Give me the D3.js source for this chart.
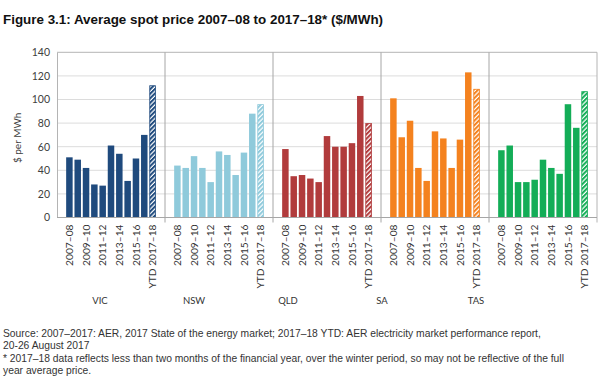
<!DOCTYPE html>
<html>
<head>
<meta charset="utf-8">
<script src="https://cdn.jsdelivr.net/npm/d3@7"></script>
<style>
  body { margin: 0; background: #fff; }
  svg { display: block; }
</style>
</head>
<body>
<div id="chart"></div>
<script>
// data ($/MWh)
const regions = ['VIC', 'NSW', 'QLD', 'SA', 'TAS'];
const years = ['2007–08', '2008–09', '2009–10', '2010–11', '2011–12', '2012–13',
  '2013–14', '2014–15', '2015–16', '2016–17', 'YTD 2017–18'];
const yearTicks = ['2007–08', '2009–10', '2011–12', '2013–14', '2015–16', 'YTD 2017–18'];
const yTicks = [0, 20, 40, 60, 80, 100, 120, 140];

const vic = [51, 49, 42, 28, 27, 61, 54, 31, 50, 70, 112];
const nsw = [44, 42, 52, 42, 30, 56, 53, 36, 55, 88, 96];
const qld = [58, 35, 36, 33, 30, 69, 60, 60, 63, 103, 80];
const sa = [101, 68, 82, 42, 31, 73, 67, 42, 66, 123, 109];
const tas = [57, 61, 30, 30, 32, 49, 42, 37, 96, 76, 107];

const seriesByRegion = { VIC: vic, NSW: nsw, QLD: qld, SA: sa, TAS: tas };
const colors = { VIC: '#1f4a7d', NSW: '#8fcadb', QLD: '#b13b3c', SA: '#f4821f', TAS: '#13ad57' };

const W = 600, H = 387;
const plot = { left: 57, right: 597, top: 52.3, bottom: 217.5 };

const svg = d3.select('#chart').append('svg')
  .attr('width', W)
  .attr('height', H);

// hatch patterns for the YTD bars
const defs = svg.append('defs');
regions.forEach(r => {
  const p = defs.append('pattern')
    .attr('id', `hatch-${r}`)
    .attr('patternUnits', 'userSpaceOnUse')
    .attr('width', 3.2)
    .attr('height', 3.2)
    .attr('patternTransform', 'rotate(45)');
  p.append('rect').attr('width', 3.2).attr('height', 3.2).attr('fill', '#fff');
  p.append('line')
    .attr('x1', 1).attr('x2', 1).attr('y1', 0).attr('y2', 3.2)
    .attr('stroke', colors[r])
    .attr('stroke-width', 2);
});

// title
svg.append('text')
  .attr('x', 3)
  .attr('y', 24)
  .style('font-family', 'Liberation Sans, Arial, sans-serif')
  .style('font-weight', 'bold')
  .style('font-size', '13.4px')
  .style('fill', '#111')
  .text('Figure 3.1: Average spot price 2007–08 to 2017–18* ($/MWh)');

const x0 = d3.scaleBand().domain(regions).range([plot.left, plot.right]);
const x1 = d3.scaleBand().domain(years).range([0, x0.bandwidth()])
  .paddingInner(0.22).paddingOuter(1.1);
const y = d3.scaleLinear().domain([0, 140]).range([plot.bottom, plot.top]);

// gridlines
svg.append('g')
  .selectAll('line')
  .data(yTicks.slice(1))
  .enter()
  .append('line')
  .attr('x1', plot.left)
  .attr('x2', plot.right)
  .attr('y1', d => y(d))
  .attr('y2', d => y(d))
  .attr('stroke', d => (d === 140 ? '#b4b4b4' : '#dcdcdc'))
  .attr('stroke-width', 1);

// y axis labels
const yAxis = svg.append('g')
  .attr('transform', `translate(${plot.left},0)`)
  .call(d3.axisLeft(y).tickValues(yTicks).tickSize(0).tickPadding(7));
yAxis.select('.domain').attr('stroke', '#b4b4b4');
yAxis.selectAll('text')
  .style('font-family', 'Lato, sans-serif')
  .style('font-size', '10.5px')
  .style('fill', '#404040');

svg.append('text')
  .attr('transform', `translate(21,${(plot.top + plot.bottom) / 2 + 3}) rotate(-90)`)
  .attr('text-anchor', 'middle')
  .style('font-family', 'Lato, sans-serif')
  .style('font-size', '10px')
  .style('fill', '#404040')
  .text('$ per MWh');

// right frame + panel separators
svg.append('g')
  .selectAll('line')
  .data(regions.slice(1))
  .enter()
  .append('line')
  .attr('x1', d => x0(d))
  .attr('x2', d => x0(d))
  .attr('y1', plot.top)
  .attr('y2', plot.bottom + 5)
  .attr('stroke', '#a6a6a6');
svg.append('line')
  .attr('x1', plot.right).attr('x2', plot.right)
  .attr('y1', plot.top).attr('y2', plot.bottom + 5)
  .attr('stroke', '#b4b4b4');

// bars per region
const panel = svg.append('g')
  .selectAll('g')
  .data(regions)
  .enter()
  .append('g')
  .attr('transform', d => `translate(${x0(d)},0)`);

panel.selectAll('rect')
  .data(r => seriesByRegion[r].map((v, i) => ({ region: r, year: years[i], value: v, ytd: i === years.length - 1 })))
  .enter()
  .append('rect')
  .attr('x', d => x1(d.year) + (d.ytd ? 0.4 : 0))
  .attr('y', d => y(d.value) + (d.ytd ? 0.4 : 0))
  .attr('width', d => x1.bandwidth() - (d.ytd ? 0.8 : 0))
  .attr('height', d => plot.bottom - y(d.value) - (d.ytd ? 0.4 : 0))
  .attr('fill', d => (d.ytd ? `url(#hatch-${d.region})` : colors[d.region]))
  .attr('stroke', d => (d.ytd ? colors[d.region] : 'none'))
  .attr('stroke-width', 0.8);

// year labels under each panel
panel.each(function () {
  const ax = d3.select(this).append('g')
    .attr('transform', `translate(0,${plot.bottom})`)
    .call(d3.axisBottom(x1).tickValues(yearTicks).tickSize(0));
  ax.select('.domain').remove();
  ax.selectAll('text')
    .attr('transform', 'rotate(-90)')
    .attr('x', -7)
    .attr('y', 0)
    .attr('dy', '0.35em')
    .attr('text-anchor', 'end')
    .style('font-family', 'Lato, sans-serif')
    .style('font-size', '10.2px')
    .style('fill', '#333');
});

// bottom axis line
svg.append('line')
  .attr('x1', plot.left).attr('x2', plot.right)
  .attr('y1', plot.bottom).attr('y2', plot.bottom)
  .attr('stroke', '#a6a6a6');

// region names
const xr = d3.scalePoint().domain(regions).range([100, 476]);
svg.append('g')
  .selectAll('text')
  .data(regions)
  .enter()
  .append('text')
  .attr('x', d => xr(d))
  .attr('y', 304)
  .attr('text-anchor', 'middle')
  .style('font-family', 'Lato, sans-serif')
  .style('font-size', '9.5px')
  .style('fill', '#333')
  .text(d => d);

// source notes
const notes = [
  'Source: 2007–2017: AER, 2017 State of the energy market; 2017–18 YTD: AER electricity market performance report,',
  '20-26 August 2017',
  '* 2017–18 data reflects less than two months of the financial year, over the winter period, so may not be reflective of the full',
  'year average price.'
];
svg.append('g')
  .selectAll('text')
  .data(notes)
  .enter()
  .append('text')
  .attr('x', 3)
  .attr('y', (d, i) => 337 + i * 12.4)
  .style('font-family', 'Liberation Sans, Arial, sans-serif')
  .style('font-size', '10.3px')
  .style('fill', '#333')
  .text(d => d);
</script>
</body>
</html>
